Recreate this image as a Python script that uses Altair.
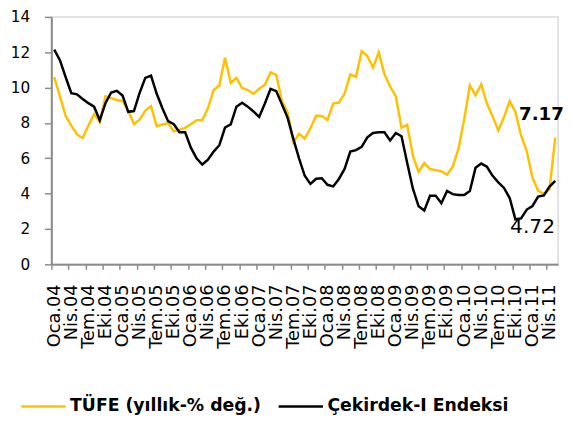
import altair as alt
import pandas as pd

# ---- data ----
month_abbr = ["Oca", "Şub", "Mar", "Nis", "May", "Haz", "Tem", "Ağu", "Eyl", "Eki", "Kas", "Ara"]
years = ["04", "05", "06", "07", "08", "09", "10", "11"]
categories = [f"{m}.{y}" for y in years for m in month_abbr][:89]  # Oca.04 .. May.11

tufe = [
    10.6, 9.5, 8.4, 7.85, 7.35, 7.15, 7.85, 8.5, 8.05, 9.5, 9.4, 9.3,
    9.24, 8.69, 7.94, 8.18, 8.70, 8.95, 7.82, 7.91, 7.99, 7.52, 7.61, 7.72,
    7.93, 8.15, 8.16, 8.83, 9.86, 10.12, 11.69, 10.26, 10.55, 9.98, 9.86, 9.65,
    9.93, 10.16, 10.86, 10.72, 9.23, 8.60, 6.90, 7.39, 7.12, 7.70, 8.40, 8.39,
    8.17, 9.10, 9.15, 9.66, 10.74, 10.61, 12.06, 11.77, 11.13, 11.99, 10.76, 10.06,
    9.50, 7.73, 7.89, 6.13, 5.24, 5.73, 5.39, 5.33, 5.27, 5.08, 5.53, 6.53,
    8.19, 10.13, 9.56, 10.19, 9.10, 8.37, 7.58, 8.33, 9.24, 8.62, 7.29, 6.40,
    4.90, 4.16, 3.99, 4.26, 7.17,
]
cekirdek = [
    12.15, 11.55, 10.6, 9.68, 9.62, 9.36, 9.12, 8.92, 8.15, 9.12, 9.72, 9.82,
    9.55, 8.63, 8.67, 9.7, 10.55, 10.68, 9.65, 8.83, 8.1, 7.93, 7.47, 7.47,
    6.6, 6.0, 5.65, 5.92, 6.38, 6.74, 7.74, 7.92, 8.92, 9.14, 8.92, 8.65,
    8.34, 9.1, 9.93, 9.8, 9.05, 8.29, 7.1, 6.0, 5.01, 4.55, 4.84, 4.87,
    4.5, 4.41, 4.83, 5.4, 6.38, 6.46, 6.65, 7.19, 7.43, 7.47, 7.47, 7.01,
    7.43, 7.25, 5.74, 4.28, 3.28, 3.04, 3.88, 3.88, 3.46, 4.15, 3.97, 3.92,
    3.92, 4.15, 5.46, 5.7, 5.52, 5.01, 4.64, 4.32, 3.75, 2.55, 2.6, 3.1,
    3.3, 3.83, 3.9, 4.4, 4.72,
]
tick_labels = [f"{m}.{y}" for y in years for m in ["Oca", "Nis", "Tem", "Eki"]][:30]
series_names = ["TÜFE (yıllık-% değ.)", "Çekirdek-I Endeksi"]
series_colors = ["#FFC000", "#000000"]

# ---- table ----
rows = []
for name, vals in zip(series_names, [tufe, cekirdek]):
    for i, (c, v) in enumerate(zip(categories, vals)):
        rows.append({"i": i, "ay": c, "seri": name, "deger": v})
df = pd.DataFrame(rows)
n = len(categories)

label_js = "[" + ",".join(f"'{t}'" for t in tick_labels) + "]"
tick_vals = [k * 3 - 0.5 for k in range(len(tick_labels))]

x_enc = alt.X(
    "i:Q",
    scale=alt.Scale(domain=[-0.5, n - 0.5], nice=False, zero=False),
    axis=alt.Axis(
        values=tick_vals,
        labelExpr=f"{label_js}[round((datum.value + 0.5) / 3)]",
        labelAngle=-90,
        labelOffset=2.9,
        labelPadding=15,
        tickSize=5,
        labelFontSize=18,
        labelOverlap=False,
        labelFlush=False,
        title=None,
    ),
)
y_enc = alt.Y(
    "deger:Q",
    scale=alt.Scale(domain=[0, 14], nice=False),
    axis=alt.Axis(
        values=list(range(0, 15, 2)),
        tickSize=7,
        labelPadding=15,
        labelFontSize=15.5,
        labelOverlap=False,
        title=None,
    ),
)

base = alt.Chart(df)

lines = base.mark_line(strokeWidth=2.5).encode(
    x=x_enc,
    y=y_enc,
    color=alt.Color(
        "seri:N",
        scale=alt.Scale(domain=series_names, range=series_colors),
        legend=alt.Legend(
            title=None,
            orient="none",
            direction="horizontal",
            legendX=-32,
            legendY=371,
            symbolType="stroke",
            symbolSize=2025,
            symbolStrokeWidth=2.5,
            labelFontSize=17.5,
            labelFontWeight="bold",
            labelFont="DejaVu Sans",
            labelColor="#000000",
            labelOffset=3,
            columnPadding=12,
            padding=0,
            labelLimit=400,
        ),
    ),
    order=alt.Order("i:Q"),
)

lab_tufe = base.transform_filter(
    (alt.datum.i == n - 1) & (alt.datum.seri == series_names[0])
).mark_text(
    fontSize=18.5, fontWeight="bold", font="DejaVu Sans", color="#000000",
    dx=-14, dy=-24, align="center", baseline="middle"
).encode(x=x_enc, y=y_enc, text=alt.Text("deger:Q", format=".2f"))

lab_cek = base.transform_filter(
    (alt.datum.i == n - 1) & (alt.datum.seri == series_names[1])
).mark_text(
    fontSize=20.5, font="DejaVu Sans", color="#000000",
    dx=-23, dy=47, align="center", baseline="middle"
).encode(x=x_enc, y=y_enc, text=alt.Text("deger:Q", format=".2f"))

chart = alt.layer(lines, lab_tufe, lab_cek).properties(
    width=514,
    height=251,
    autosize=alt.AutoSizeParams(type="none"),
    padding={"left": 44, "top": 6, "right": 6, "bottom": 163},
).configure_view(
    stroke="#d9d9d9", strokeWidth=1.5
).configure_axis(
    domainColor="#8c8c8c",
    domainWidth=2,
    tickColor="#8c8c8c",
    tickWidth=1.5,
    labelFont="DejaVu Sans",
    labelColor="#000000",
    labelOverlap=False,
    grid=False,
)

chart.save("out.html", embed_options={"renderer": "svg", "actions": False})
